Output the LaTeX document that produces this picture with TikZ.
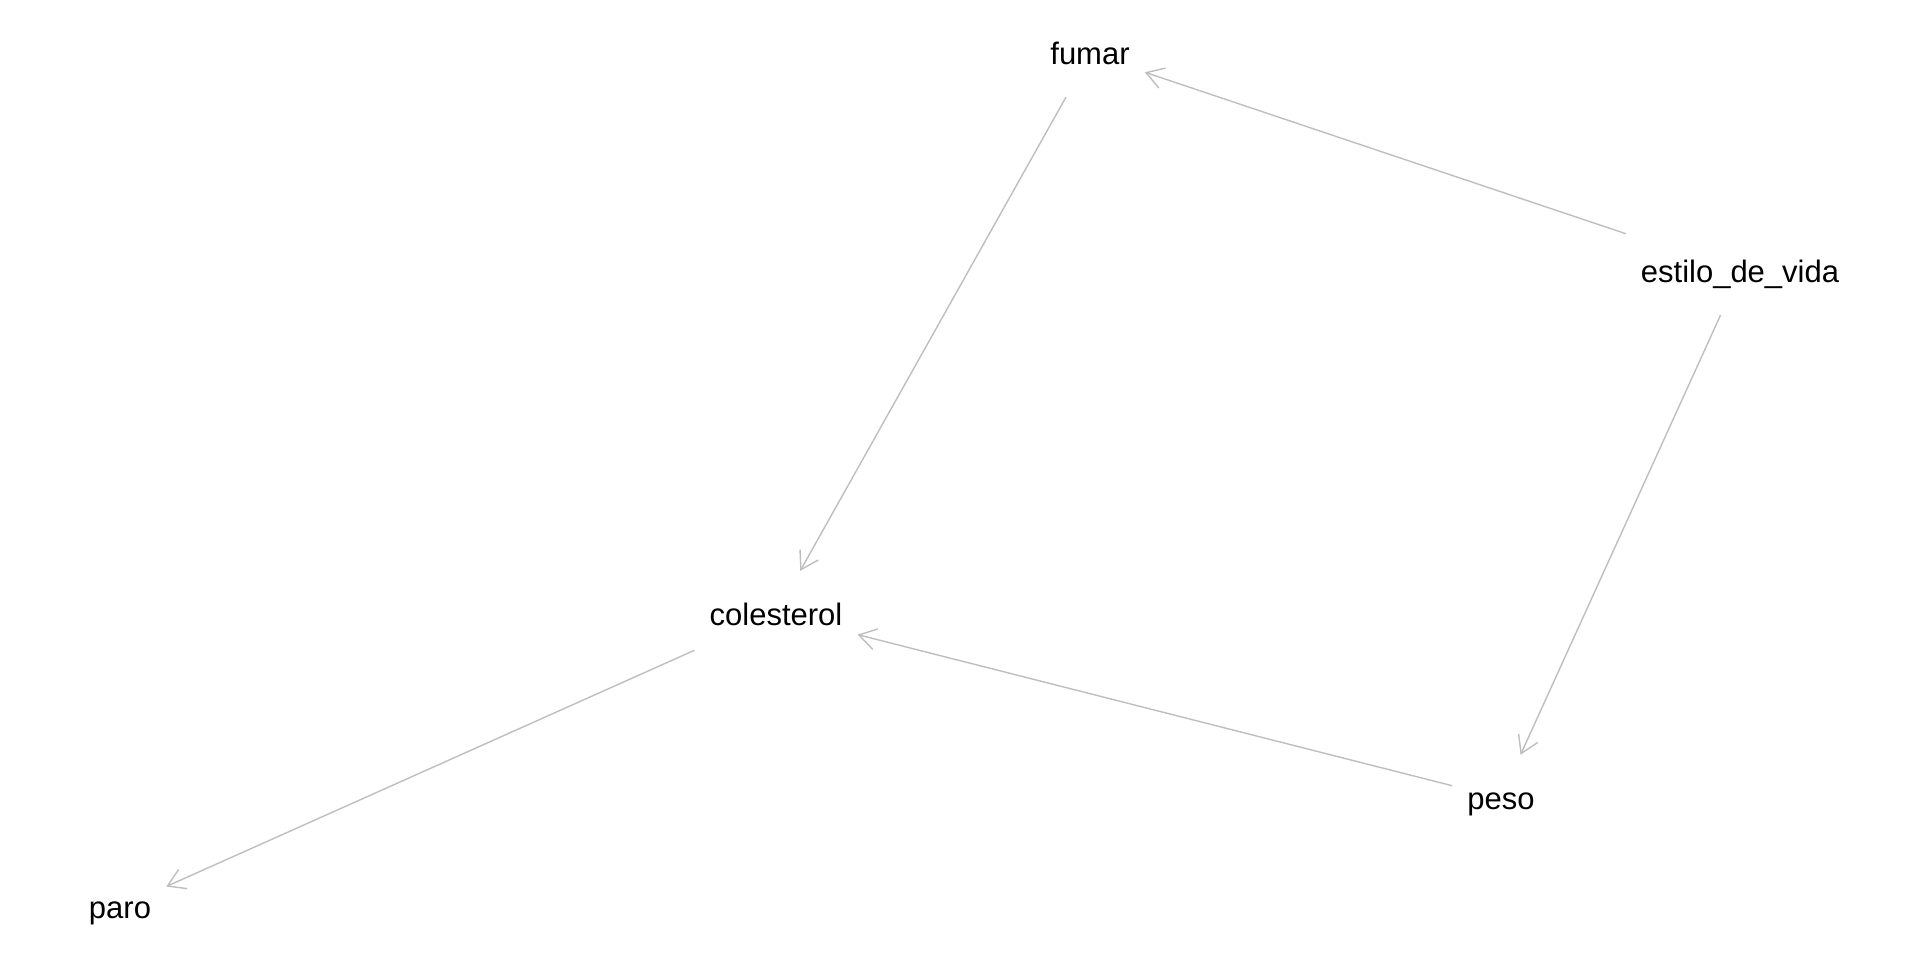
\documentclass[tikz,border=0pt]{standalone}
\usepackage{fontspec}
\setmainfont{Liberation Sans}
\usetikzlibrary{arrows.meta}
\definecolor{edgegray}{RGB}{190,190,190}
\tikzset{
  var/.style={rectangle, inner xsep=15pt, inner ysep=32pt, text height=22pt, text depth=0pt,
    font=\fontsize{31}{37}\selectfont, text=black},
  edge/.style={draw=edgegray, line width=1.4pt,
    -{Straight Barb[length=17pt, width=21pt, line width=1.4pt]}}
}
\begin{document}
\begin{tikzpicture}[x=1pt, y=-1pt]
\useasboundingbox (0,0) rectangle (1920,960);
\node[var] (fumar) at (1090,54) {fumar};
\node[var] (estilo) at (1740,272) {estilo\_de\_vida};
\node[var] (colesterol) at (776,614) {colesterol};
\node[var] (peso) at (1501,798) {peso};
\node[var] (paro) at (120,907) {paro};
\draw[edge] (estilo) -- (fumar);
\draw[edge] (fumar) -- (colesterol);
\draw[edge] (estilo) -- (peso);
\draw[edge] (peso) -- (colesterol);
\draw[edge] (colesterol) -- (paro);
\end{tikzpicture}
\end{document}
